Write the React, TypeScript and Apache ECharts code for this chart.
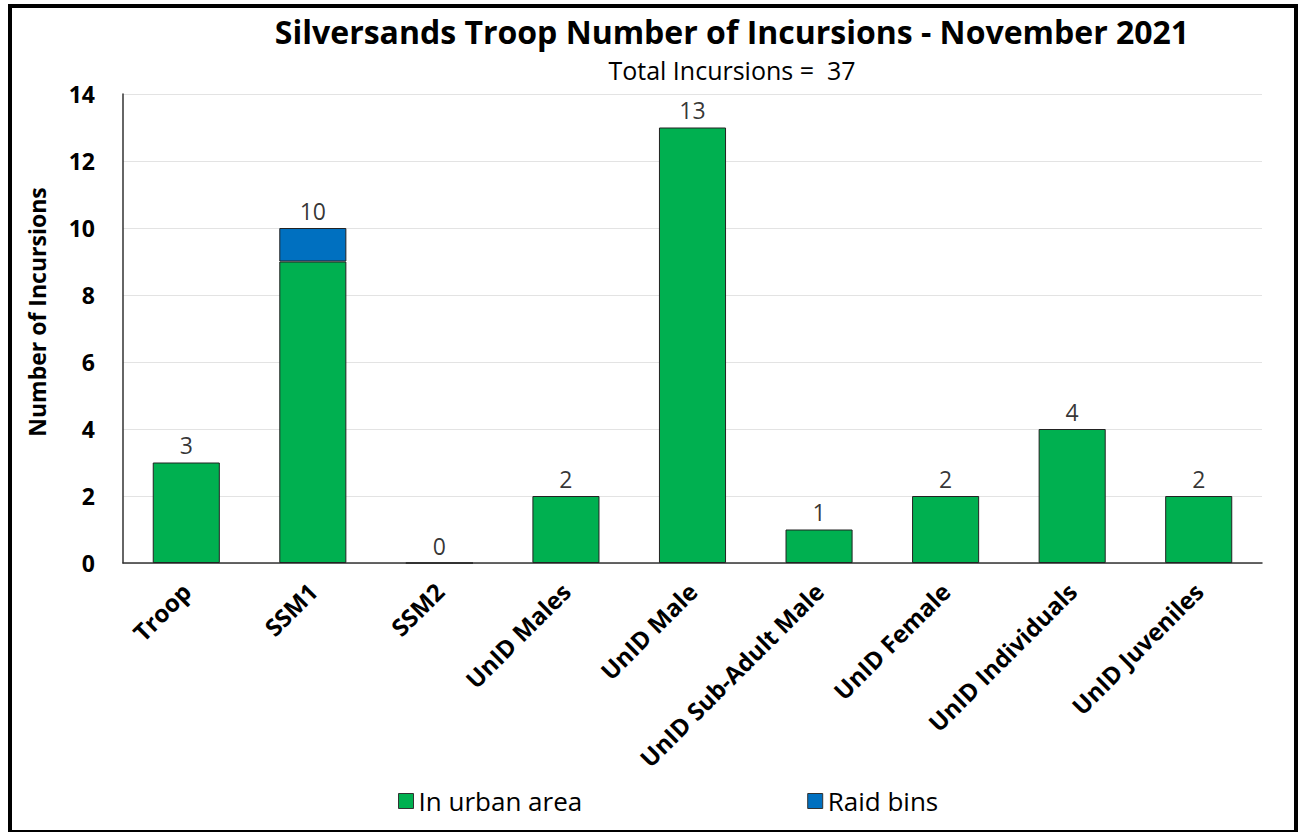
import React, { useEffect, useRef } from "react";
import * as echarts from "echarts";

const categories = [
  "Troop",
  "SSM1",
  "SSM2",
  "UnID Males",
  "UnID Male",
  "UnID Sub-Adult Male",
  "UnID Female",
  "UnID Individuals",
  "UnID Juveniles",
];
const urbanArea = [3, 9, 0, 2, 13, 1, 2, 4, 2];
const raidBins = [0, 1, 0, 0, 0, 0, 0, 0, 0];
const totals = [3, 10, 0, 2, 13, 1, 2, 4, 2];
const yTicks = { min: 0, max: 14, interval: 2 };
const titleText = "Silversands Troop Number of Incursions - November 2021";
const subtitleText = "Total Incursions =  37";
const yAxisName = "Number of Incursions";

const FONT = "'Open Sans', 'Noto Sans', sans-serif";

export default function App() {
  const ref = useRef<HTMLDivElement>(null);
  useEffect(() => {
    if (!ref.current) return;
    const chart = echarts.init(ref.current, null, { renderer: "svg" });
    chart.setOption({
      animation: false,
      backgroundColor: "#ffffff",
      textStyle: { fontFamily: FONT },
      title: [
        {
          text: titleText,
          left: 727,
          textAlign: "center",
          top: 10,
          textStyle: { fontSize: 32, fontWeight: "bold", color: "#000", fontFamily: FONT },
        },
        {
          text: subtitleText,
          left: 727,
          textAlign: "center",
          top: 52,
          textStyle: { fontSize: 25, fontWeight: "normal", color: "#000", fontFamily: FONT },
        },
      ],
      graphic: [
        {
          type: "rect",
          shape: { x: 10, y: 6, width: 1286, height: 826 },
          style: { fill: "none", stroke: "#000", lineWidth: 4 },
          silent: true,
          z: 100,
        },
        {
          type: "text",
          x: 37,
          y: 312,
          rotation: Math.PI / 2,
          style: {
            text: yAxisName,
            fontSize: 23,
            fontWeight: "bold",
            fill: "#000",
            fontFamily: FONT,
            textAlign: "center",
            textVerticalAlign: "middle",
          },
          silent: true,
        },
      ],
      legend: {
        bottom: 13,
        left: 393,
        itemGap: 225,
        itemWidth: 15,
        itemHeight: 15,
        icon: "rect",
        textStyle: { fontSize: 26, color: "#000", fontFamily: FONT },
        data: [
          { name: "In urban area", itemStyle: { borderColor: "#333", borderWidth: 1 } },
          { name: "Raid bins", itemStyle: { borderColor: "#333", borderWidth: 1 } },
        ],
      },
      grid: { left: 123, right: 40, top: 94, bottom: 269, containLabel: false },
      xAxis: {
        type: "category",
        data: categories,
        axisLine: { lineStyle: { color: "#333", width: 1.5 } },
        axisTick: { show: false },
        axisLabel: {
          rotate: 45,
          interval: 0,
          margin: 24,
          fontSize: 24,
          fontWeight: "bold",
          color: "#000",
          fontFamily: FONT,
        },
      },
      yAxis: {
        type: "value",
        min: yTicks.min,
        max: yTicks.max,
        interval: yTicks.interval,
        axisLine: { show: true, lineStyle: { color: "#333", width: 1.5 } },
        axisTick: { show: false },
        splitLine: { lineStyle: { color: "#e3e3e3", width: 1 } },
        axisLabel: {
          margin: 28,
          fontSize: 23,
          fontWeight: "bold",
          color: "#000",
          fontFamily: FONT,
        },
      },
      series: [
        {
          name: "In urban area",
          type: "bar",
          stack: "total",
          barWidth: "53%",
          data: urbanArea,
          itemStyle: { color: "#00B050", borderColor: "#222", borderWidth: 1 },
        },
        {
          name: "Raid bins",
          type: "bar",
          stack: "total",
          barWidth: "53%",
          data: raidBins.map((v) => (v === 0 ? null : v)),
          itemStyle: { color: "#0070C0", borderColor: "#222", borderWidth: 1 },
        },
        {
          name: "labels",
          type: "scatter",
          data: totals,
          symbolSize: 0,
          itemStyle: { color: "transparent" },
          label: {
            show: true,
            position: "top",
            distance: 6,
            fontSize: 23,
            color: "#000",
            textBorderWidth: 0,
            fontFamily: FONT,
            formatter: (p: any) => String(p.value),
          },
          silent: true,
          z: 10,
        },
      ],
    });
    return () => chart.dispose();
  }, []);
  return (
    <div
      ref={ref}
      style={{ position: "fixed", left: 0, top: 0, width: 1302, height: 832 }}
    />
  );
}
